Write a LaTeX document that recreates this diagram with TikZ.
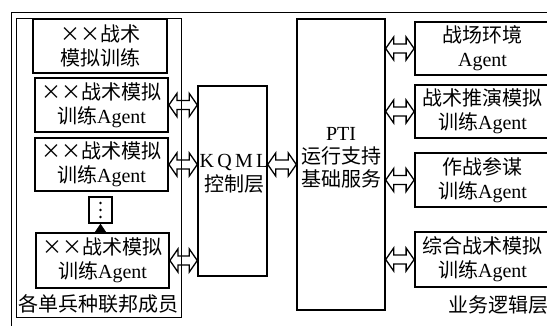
\documentclass[tikz,border=0pt]{standalone}
\usepackage{fontspec}
\setmainfont{Liberation Serif}
\newfontfamily\cjk{Noto Sans CJK SC}
\newcommand{\zh}[1]{{\cjk #1}}
\usetikzlibrary{calc,arrows.meta}
\begin{document}
\begin{tikzpicture}[x=1pt,y=-1pt,
  box/.style={draw, line width=1.8pt, inner sep=0pt, align=center,
    font=\fontsize{20}{24}\selectfont},
  midbox/.style={draw, line width=1.4pt, inner sep=0pt, align=center,
    font=\fontsize{20}{23}\selectfont},
  frameline/.style={line width=1pt},
  lbl/.style={inner sep=0pt, font=\fontsize{20}{24}\selectfont},
  dbl/.style={line width=1.3pt, line join=miter, to path={let \p1=(\tikztostart), \p2=(\tikztotarget) in
    (\x1,\y1) -- (\x1+8pt,\y1+11.5pt) -- (\x1+8pt,\y1+4.5pt) -- (\x2-8pt,\y1+4.5pt)
    -- (\x2-8pt,\y1+11.5pt) -- (\x2,\y1) -- (\x2-8pt,\y1-11.5pt) -- (\x2-8pt,\y1-4.5pt)
    -- (\x1+8pt,\y1-4.5pt) -- (\x1+8pt,\y1-11.5pt) -- cycle}}
]
\useasboundingbox (0,0) rectangle (547,325);
\clip (0,0) rectangle (547,325);
\fill[white] (0,0) rectangle (547,325);

% outer frame
\coordinate (obl) at (11,330);
\coordinate (otl) at (11,12);
\coordinate (otr) at (560,12);
\draw[frameline] (obl) -- (otl) -- (otr);

% inner frame
\node[draw, line width=1pt, minimum width=165, minimum height=299, inner sep=0pt] (inner) at (98.5,167.5) {};

% left boxes
\node[box, minimum width=134, minimum height=54] (b1) at (100,46) {\zh{××战术}\\\zh{模拟训练}};
\node[box, minimum width=133, minimum height=54] (b2) at (101.5,105) {\zh{××战术模拟}\\\zh{训练}Agent};
\node[box, minimum width=133, minimum height=53] (b3) at (101.5,164.5) {\zh{××战术模拟}\\\zh{训练}Agent};
\node[draw, line width=1.4pt, minimum width=23, minimum height=26, inner sep=0pt] (dots) at (100.5,210) {};
\fill ($(dots.center)+(0,-7)$) circle (1.3pt);
\fill (dots.center) circle (1.3pt);
\fill ($(dots.center)+(0,7)$) circle (1.3pt);
\node[box, minimum width=133, minimum height=55] (b4) at (102.5,260.5) {\zh{××战术模拟}\\\zh{训练}Agent};
\node[lbl] (lblL) at (98.5,304) {\zh{各单兵种联邦成员}};

\draw[line width=0.5pt, -{Triangle[length=9pt,width=12pt]}] (dots.south |- b4.north) -- (dots.south);

% middle
\node[midbox, minimum width=69, minimum height=190] (kqml) at (232.5,181) {};
\node[inner sep=0pt, align=center, font=\fontsize{20}{24}\selectfont] (kqmlt) at (234,174) {K\,Q\,M\,L\\\zh{控制层}};
\node[midbox, minimum width=88, minimum height=291] (pti) at (341,164.5) {};
\node[inner sep=0pt, align=center, font=\fontsize{20}{23}\selectfont] (ptit) at (341,158) {PTI\\\zh{运行支持}\\\zh{基础服务}};

% right boxes
\node[box, minimum width=135, minimum height=53] (ra) at (482.5,48.5) {\zh{战场环境}\\Agent};
\node[box, minimum width=135, minimum height=53] (rb) at (482.5,111.5) {\zh{战术推演模拟}\\\zh{训练}Agent};
\node[box, minimum width=135, minimum height=54] (rc) at (482.5,180) {\zh{作战参谋}\\\zh{训练}Agent};
\node[box, minimum width=135, minimum height=55] (rd) at (482.5,259.5) {\zh{综合战术模拟}\\\zh{训练}Agent};
\node[lbl, anchor=west] (lblR) at (448,305) {\zh{业务逻辑层}};

% double arrows
\draw[dbl] (b2.east) to (kqml.west |- b2.east);
\draw[dbl] (b3.east) to (kqml.west |- b3.east);
\draw[dbl] (b4.east) to (kqml.west |- b4.east);
\draw[dbl] (kqml.east |- b3.east) to (pti.west |- b3.east);
\draw[dbl] (pti.east |- ra.west) to (ra.west);
\draw[dbl] (pti.east |- rb.west) to (rb.west);
\draw[dbl] (pti.east |- rc.west) to (rc.west);
\draw[dbl] (pti.east |- rd.west) to (rd.west);
\end{tikzpicture}
\end{document}
